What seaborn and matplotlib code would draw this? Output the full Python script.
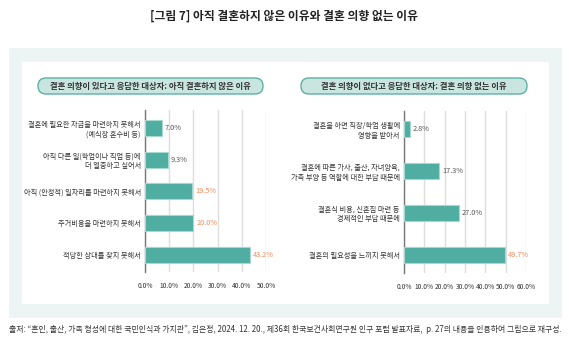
import matplotlib
matplotlib.use("Agg")
import matplotlib.pyplot as plt
from matplotlib.patches import FancyBboxPatch, Rectangle
import seaborn as sns
import pandas as pd

sns.set_theme(style="white")
plt.rcParams['font.family'] = ['Noto Sans CJK KR', 'DejaVu Sans']

title = "[그림 7] 아직 결혼하지 않은 이유와 결혼 의향 없는 이유"
left_title = "결혼 의향이 있다고 응답한 대상자: 아직 결혼하지 않은 이유"
right_title = "결혼 의향이 없다고 응답한 대상자: 결혼 의향 없는 이유"
left_cats = ["결혼에 필요한 자금을 마련하지 못해서\n(예식장 혼수비 등)",
             "아직 다른 일(학업이나 직업 등)에\n더 열중하고 싶어서",
             "아직 (안정적) 일자리를 마련하지 못해서",
             "주거비용을 마련하지 못해서",
             "적당한 상대를 찾지 못해서"]
left_vals = [7.0, 9.3, 19.5, 20.0, 43.2]
left_ticks = [0, 10, 20, 30, 40, 50]
right_cats = ["결혼을 하면 직장/학업 생활에\n영향을 받아서",
              "결혼에 따른 가사, 출산, 자녀양육,\n가족 부양 등 역할에 대한 부담 때문에",
              "결혼식 비용, 신혼집 마련 등\n경제적인 부담 때문에",
              "결혼의 필요성을 느끼지 못해서"]
right_vals = [2.8, 17.3, 27.0, 49.7]
right_ticks = [0, 10, 20, 30, 40, 50, 60]
footer = ("출처: \u201c혼인, 출산, 가족 형성에 대한 국민인식과 가치관\u201d, 김은정, 2024. 12. 20., "
          "제36회 한국보건사회연구원 인구 포럼 발표자료,  p. 27의 내용을 인용하여 그림으로 재구성.")

W, H = 569, 349
fig = plt.figure(figsize=(W / 100, H / 100), dpi=100)
fig.patch.set_facecolor("white")

def px_rect(x0, y0, x1, y1):
    return (x0, H - y1, x1 - x0, y1 - y0)

x, y, w, h = px_rect(9, 48, 562, 318)
fig.patches.append(Rectangle((x, y), w, h, transform=None, facecolor="#EDF5F4", edgecolor="none", zorder=-3))
x, y, w, h = px_rect(22, 62, 549, 304)
fig.patches.append(Rectangle((x, y), w, h, transform=None, facecolor="white", edgecolor="none", zorder=-2))

for (x0, y0, x1, y1), t in [((38, 78, 263, 94), left_title), ((301, 78, 527, 94), right_title)]:
    x, y, w, h = px_rect(x0, y0, x1, y1)
    fig.patches.append(FancyBboxPatch((x, y), w, h, boxstyle="round,pad=0,rounding_size=8",
                                      transform=None, facecolor="#C9E5E0", edgecolor="#5DB0A5",
                                      linewidth=1.0, zorder=-1))
    fig.text((x0 + x1) / 2 / W, 1 - (y0 + y1) / 2 / H, t, ha="center", va="center",
             fontsize=6.0, fontweight="bold", color="#333333")

fig.text(0.5, 1 - 16.5 / H, title, ha="center", va="center", fontsize=8.5,
         fontweight="bold", color="#222222")
fig.text(9 / W, 1 - 329 / H, footer, ha="left", va="center", fontsize=5.7, color="#333333")

bar_color = "#4FADA2"
orange = "#F28B5E"
gray = "#555555"

def draw(ax_rect, cats, vals, ticks, width, orange_thresh, ylim):
    x0, y0, x1, y1 = ax_rect
    ax = fig.add_axes([x0 / W, 1 - y1 / H, (x1 - x0) / W, (y1 - y0) / H])
    ax.set_zorder(5)
    df = pd.DataFrame({"cat": cats, "val": vals})
    sns.barplot(data=df, y="cat", x="val", orient="h", color=bar_color, width=width,
                edgecolor="#A6D8D0", linewidth=0.8, saturation=1, ax=ax, zorder=3)
    ax.set_xlim(ticks[0], ticks[-1])
    ax.set_ylim(*ylim)
    ax.set_xticks(ticks)
    ax.set_xticklabels([f"{t:.1f}%" for t in ticks], fontsize=4.8, color="#333333")
    ax.set_yticks(range(len(cats)))
    ax.set_yticklabels(cats, fontsize=5.2, color="#333333", linespacing=1.25)
    ax.tick_params(axis="both", length=0, pad=3)
    ax.tick_params(axis="x", pad=7)
    ax.set_xlabel("")
    ax.set_ylabel("")
    ax.xaxis.grid(True, color="#DDDDDD", linewidth=1.0, zorder=0)
    ax.set_axisbelow(True)
    for s in ["top", "right", "bottom"]:
        ax.spines[s].set_visible(False)
    ax.spines["left"].set_color("#777777")
    ax.spines["left"].set_linewidth(1.0)
    ax.set_facecolor("none")
    for i, v in enumerate(vals):
        ax.text(v + (ticks[-1] - ticks[0]) * 0.025, i, f"{v:.1f}%", va="center", ha="left",
                fontsize=5.3, color=orange if v >= orange_thresh else gray)
    return ax

draw((145, 110, 266, 272), left_cats, left_vals, left_ticks, 0.5, 15, (4.55, -0.57))
draw((404, 111, 526, 273), right_cats, right_vals, right_ticks, 0.38, 40, (3.43, -0.43))

fig.savefig("out.png", dpi=100)
